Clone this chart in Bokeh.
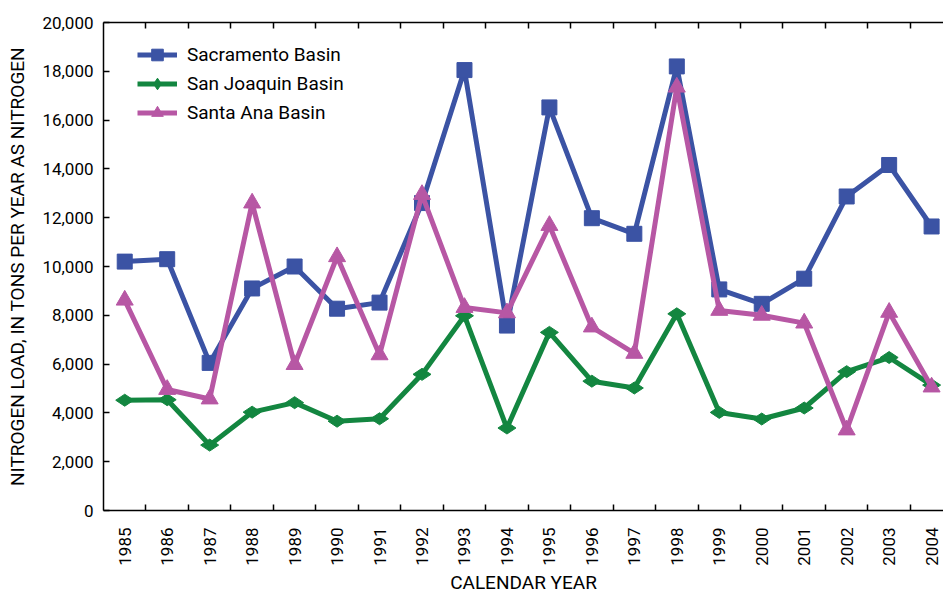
import math
from bokeh.plotting import figure
from bokeh.models import (Range1d, FixedTicker, NumeralTickFormatter, LinearAxis,
                          Legend, LegendItem)
from bokeh.embed import file_html
from bokeh.resources import INLINE

years = list(range(1985, 2005))
sacramento = [10200, 10300, 6050, 9100, 10000, 8270, 8520, 12600, 18050, 7580,
              16520, 11980, 11340, 18200, 9060, 8470, 9500, 12870, 14160, 11640]
san_joaquin = [4520, 4540, 2680, 4030, 4420, 3660, 3760, 5580, 7980, 3380,
               7300, 5300, 5020, 8060, 4020, 3750, 4200, 5690, 6270, 5140]
santa_ana = [8620, 4960, 4570, 12600, 5980, 10400, 6380, 12950, 8320, 8100,
             11680, 7520, 6440, 17350, 8200, 8000, 7680, 3300, 8120, 5060]
y_ticks = list(range(0, 20001, 2000))
series_names = ["Sacramento Basin", "San Joaquin Basin", "Santa Ana Basin"]

FONT = "Roboto"
TICK_FS = "17px"
LABEL_FS = "19px"
BLUE, GREEN, MAGENTA = "#3B53A4", "#138640", "#B757A4"

p = figure(width=943, height=596, output_backend="svg", toolbar_location=None,
           x_range=Range1d(1984.5, 2004.28), y_range=Range1d(0, 20000),
           min_border_left=103, min_border_right=0, min_border_top=22,
           min_border_bottom=85, x_axis_location="below")
p.xgrid.visible = False
p.ygrid.visible = False
p.outline_line_color = None
p.background_fill_color = "white"
p.border_fill_color = "white"

minor = [y + 0.5 for y in years[:-1]]

def tick_style(ax):
    ax.major_tick_line_color = None
    ax.minor_tick_in = 6
    ax.minor_tick_out = 0
    ax.minor_tick_line_color = "black"
    ax.minor_tick_line_width = 1.5
    ax.axis_line_color = "black"
    ax.axis_line_width = 1.5

xa = p.xaxis[0]
xa.ticker = FixedTicker(ticks=years, minor_ticks=minor)
tick_style(xa)
xa.major_label_overrides = {y: str(y) for y in years}
xa.major_label_orientation = math.pi / 2
xa.major_label_text_font = FONT
xa.major_label_text_font_size = TICK_FS
xa.major_label_text_color = "black"
xa.major_label_standoff = 11
xa.axis_label = "CALENDAR YEAR"
xa.axis_label_text_font = FONT
xa.axis_label_text_font_size = LABEL_FS
xa.axis_label_text_font_style = "normal"
xa.axis_label_text_color = "black"
xa.axis_label_standoff = 2

top = LinearAxis(ticker=FixedTicker(ticks=[], minor_ticks=minor))
tick_style(top)
top.major_label_standoff = 0
p.add_layout(top, "above")

ya = p.yaxis[0]
ya.ticker = FixedTicker(ticks=y_ticks)
ya.formatter = NumeralTickFormatter(format="0,0")
ya.major_tick_in = 6
ya.major_tick_out = 0
ya.minor_tick_line_color = None
ya.major_tick_line_width = 1.5
ya.axis_line_width = 1.5
ya.major_label_text_font = FONT
ya.major_label_text_font_size = TICK_FS
ya.major_label_text_color = "black"
ya.major_label_standoff = 10
ya.axis_label = "NITROGEN LOAD, IN TONS PER YEAR AS NITROGEN"
ya.axis_label_text_font = FONT
ya.axis_label_text_font_size = LABEL_FS
ya.axis_label_text_font_style = "normal"
ya.axis_label_text_color = "black"
ya.axis_label_standoff = 10

l1 = p.line(years, sacramento, line_color=BLUE, line_width=5)
m1 = p.scatter(years, sacramento, marker="square", size=15, fill_color=BLUE, line_color=BLUE)
l2 = p.line(years, san_joaquin, line_color=GREEN, line_width=5)
m2 = p.scatter(years, san_joaquin, marker="diamond", angle=math.pi / 2, size=18,
               fill_color=GREEN, line_color=GREEN)
l3 = p.line(years, santa_ana, line_color=MAGENTA, line_width=5)
m3 = p.scatter(years, santa_ana, marker="triangle", size=17, fill_color=MAGENTA, line_color=MAGENTA)

legend = Legend(items=[LegendItem(label=series_names[0], renderers=[l1, m1]),
                       LegendItem(label=series_names[1], renderers=[l2, m2]),
                       LegendItem(label=series_names[2], renderers=[l3, m3])],
                location=(34, 383), margin=0, padding=0, spacing=0,
                glyph_width=40, glyph_height=29, label_standoff=10,
                label_text_font=FONT, label_text_font_size=LABEL_FS,
                label_text_color="black",
                border_line_color=None, background_fill_alpha=0)
p.add_layout(legend)

open("out.html", "w").write(file_html(p, INLINE))
